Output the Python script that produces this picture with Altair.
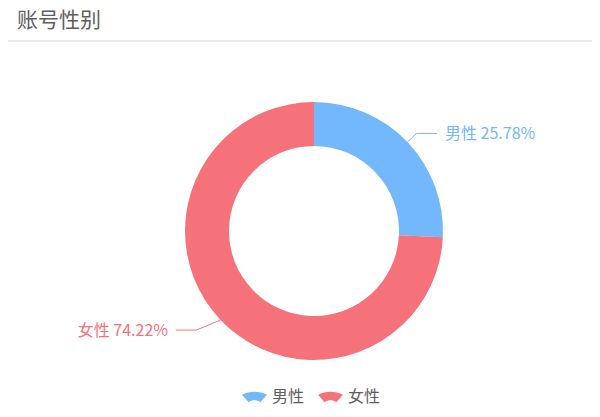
import altair as alt
import pandas as pd
import numpy as np

TITLE = "账号性别"
CATEGORIES = ["男性", "女性"]
PERCENTS = [25.78, 74.22]
COLORS = ["#73b7fd", "#f5727a"]

# layout / style constants
W, H = 584, 400
CX, CY = 306, 223
R_IN, R_OUT = 85, 129
LEN1, LEN2, GAP = 12.5, 20.5, 8
PULL = {"男性": (0, 0), "女性": (-15, 1.5)}
FONT = "Noto Sans CJK SC"
GREY = "#5e5e5e"
SYMBOL = "M-1,-0.16A2.2,2.2,0,0,1,1,-0.16L0.46,0.44A0.75,0.75,0,0,0,-0.46,0.44Z"

df = pd.DataFrame({"cat": CATEGORIES, "pct": PERCENTS,
                   "idx": list(range(len(CATEGORIES))), "hex": COLORS})
total = df["pct"].sum()
mid = (df["pct"].cumsum() - df["pct"] / 2) / total * 2 * np.pi

line_rows, text_rows = [], []
for i, row in df.iterrows():
    a = mid[i]
    ux, uy = np.sin(a), -np.cos(a)
    sx, sy = CX + R_OUT * ux, CY + R_OUT * uy
    px, py = PULL[row["cat"]]
    ex, ey = sx + LEN1 * ux + px, sy + LEN1 * uy + py
    side = 1 if ux >= 0 else -1
    fx = ex + side * LEN2
    for k, (x, y) in enumerate([(sx, sy), (ex, ey), (fx, ey)]):
        line_rows.append({"cat": row["cat"], "hex": row["hex"], "k": k, "px": x, "py": y})
    text_rows.append({"cat": row["cat"], "hex": row["hex"],
                      "label": f"{row['cat']} {row['pct']:.2f}%",
                      "tx": fx + side * GAP, "ty": ey + 1, "side": "r" if side > 0 else "l"})
lines = pd.DataFrame(line_rows)
texts = pd.DataFrame(text_rows)

arc = alt.Chart(df).mark_arc(innerRadius=R_IN, outerRadius=R_OUT).encode(
    theta=alt.Theta("pct:Q", stack=True),
    order=alt.Order("idx:Q"),
    color=alt.Color("cat:N", scale=alt.Scale(domain=CATEGORIES, range=COLORS),
                    legend=alt.Legend(orient="none", legendX=234, legendY=376,
                                      direction="horizontal", title=None,
                                      symbolType=SYMBOL, symbolSize=625,
                                      symbolStrokeWidth=0, symbolOpacity=1,
                                      labelFont=FONT, labelFontSize=16,
                                      labelColor=GREY, labelOffset=5,
                                      columnPadding=13, padding=0)),
    x=alt.value(CX), y=alt.value(CY),
)

leader = alt.Chart(lines).mark_line(strokeWidth=1).encode(
    x=alt.X("px:Q", scale=None), y=alt.Y("py:Q", scale=None),
    detail="cat:N", order="k:Q",
    color=alt.Color("hex:N", scale=None),
)

text_r = alt.Chart(texts).transform_filter(alt.datum.side == "r").mark_text(
    align="left", baseline="middle", font=FONT, fontSize=16).encode(
    x=alt.X("tx:Q", scale=None), y=alt.Y("ty:Q", scale=None),
    text="label:N", color=alt.Color("hex:N", scale=None))

text_l = alt.Chart(texts).transform_filter(alt.datum.side == "l").mark_text(
    align="right", baseline="middle", font=FONT, fontSize=16).encode(
    x=alt.X("tx:Q", scale=None), y=alt.Y("ty:Q", scale=None),
    text="label:N", color=alt.Color("hex:N", scale=None))

title = alt.Chart(pd.DataFrame({"t": [TITLE]})).mark_text(
    align="left", baseline="middle", font=FONT, fontSize=21, color=GREY).encode(
    text="t:N", x=alt.value(9), y=alt.value(13))

sep = alt.Chart(pd.DataFrame({"t": [TITLE]})).mark_rule(color="#e3e3e3", strokeWidth=1.5).encode(
    x=alt.value(0), x2=alt.value(W), y=alt.value(33))

chart = alt.layer(sep, title, arc, leader, text_r, text_l).properties(
    width=W, height=H, padding=0, autosize=alt.AutoSizeParams(type="none")
).configure_view(stroke=None)

chart.save("out.html", embed_options={"renderer": "svg", "actions": False})
